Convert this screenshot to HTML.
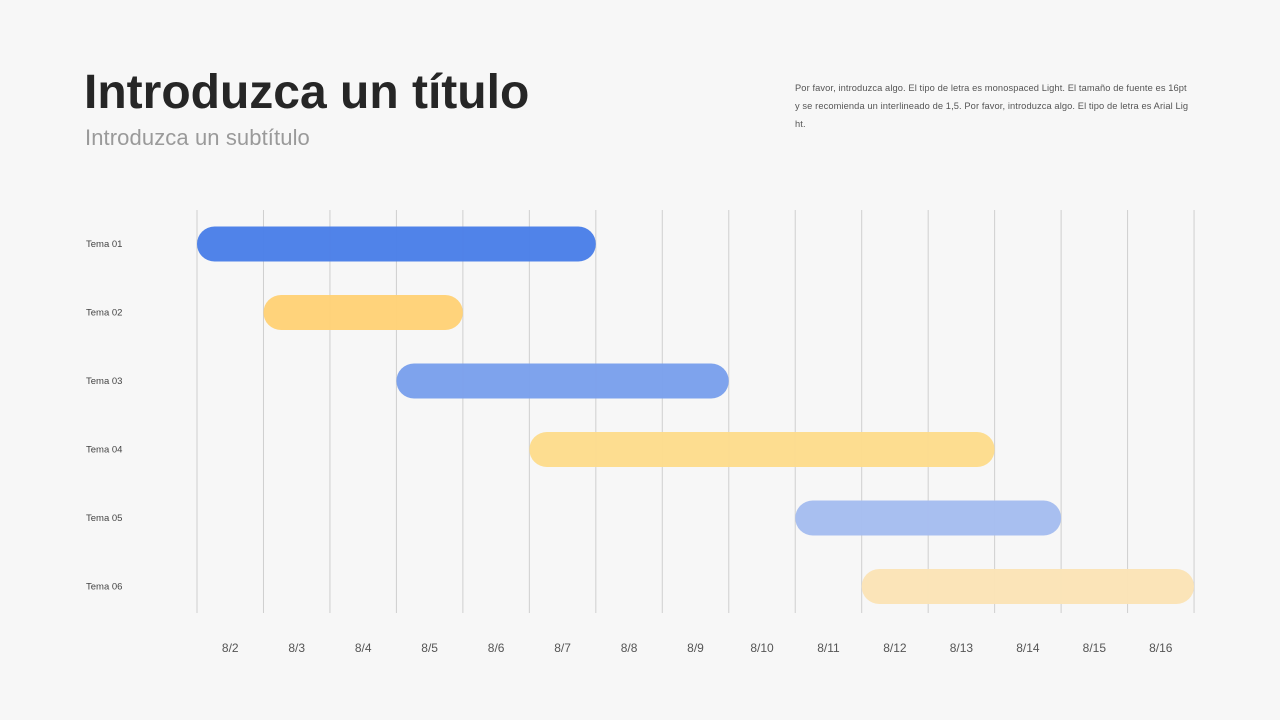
<!DOCTYPE html>
<html><head><meta charset="utf-8"><style>
html,body{margin:0;padding:0;background:#f7f7f7;width:1280px;height:720px;overflow:hidden;font-family:"Liberation Sans",sans-serif}
#title{position:absolute;left:84px;top:65px;font-size:48px;font-weight:bold;color:#262626;letter-spacing:0px;margin:0}
#sub{position:absolute;left:85px;top:125px;font-size:22px;color:#9a9a9a;letter-spacing:0.1px}
#desc{position:absolute;left:795px;top:79px;font-size:9.3px;line-height:18px;color:#555;letter-spacing:0.1px;white-space:nowrap}
svg{position:absolute;left:0;top:0}
</style></head><body>
<h1 id="title">Introduzca un título</h1>
<div id="sub">Introduzca un subtítulo</div>
<div id="desc">Por favor, introduzca algo. El tipo de letra es monospaced Light. El tamaño de fuente es 16pt<br>y se recomienda un interlineado de 1,5. Por favor, introduzca algo. El tipo de letra es Arial Lig<br>ht.</div>
<svg id="chart" width="1280" height="720"></svg>
<script>
const days = ["8/2","8/3","8/4","8/5","8/6","8/7","8/8","8/9","8/10","8/11","8/12","8/13","8/14","8/15","8/16"];
const tasks = ["Tema 01","Tema 02","Tema 03","Tema 04","Tema 05","Tema 06"];
const startIdx = [0,1,3,5,9,10];
const endIdx = [6,4,8,12,13,15];
const colors = ["#4a7fe8","#ffd277","#7aa0ec","#fddc8c","#a5bdf0","#fbe3b6"];
const NS="http://www.w3.org/2000/svg";
const svg=document.getElementById('chart');
const x0=197,colW=66.47,rowY0=244,rowH=68.5;
const xs=i=>x0+i*colW, ys=i=>rowY0+i*rowH;
function mk(t,a){const e=document.createElementNS(NS,t);for(const k in a)e.setAttribute(k,a[k]);svg.appendChild(e);return e;}
for(let i=0;i<=days.length;i++){
  const l=mk('line',{x1:xs(i),x2:xs(i),y1:210,y2:613,stroke:'#cfcfcf','stroke-width':1});
  
  
}
days.forEach((d,i)=>{
  const t=mk('text',{x:xs(i+0.5),y:652,'text-anchor':'middle','font-size':12,fill:'#555'});
  t.textContent=d;
  
  
});
tasks.forEach((n,i)=>{
  const t=mk('text',{x:86,y:ys(i)+3,'font-size':9.5,fill:'#444'});
  t.textContent=n;
  
  
  const r=mk('rect',{x:xs(startIdx[i]),y:ys(i)-17.5,width:xs(endIdx[i])-xs(startIdx[i]),height:35,rx:17.5,fill:colors[i],opacity:0.97});
  
  
});
</script>
</body></html>
